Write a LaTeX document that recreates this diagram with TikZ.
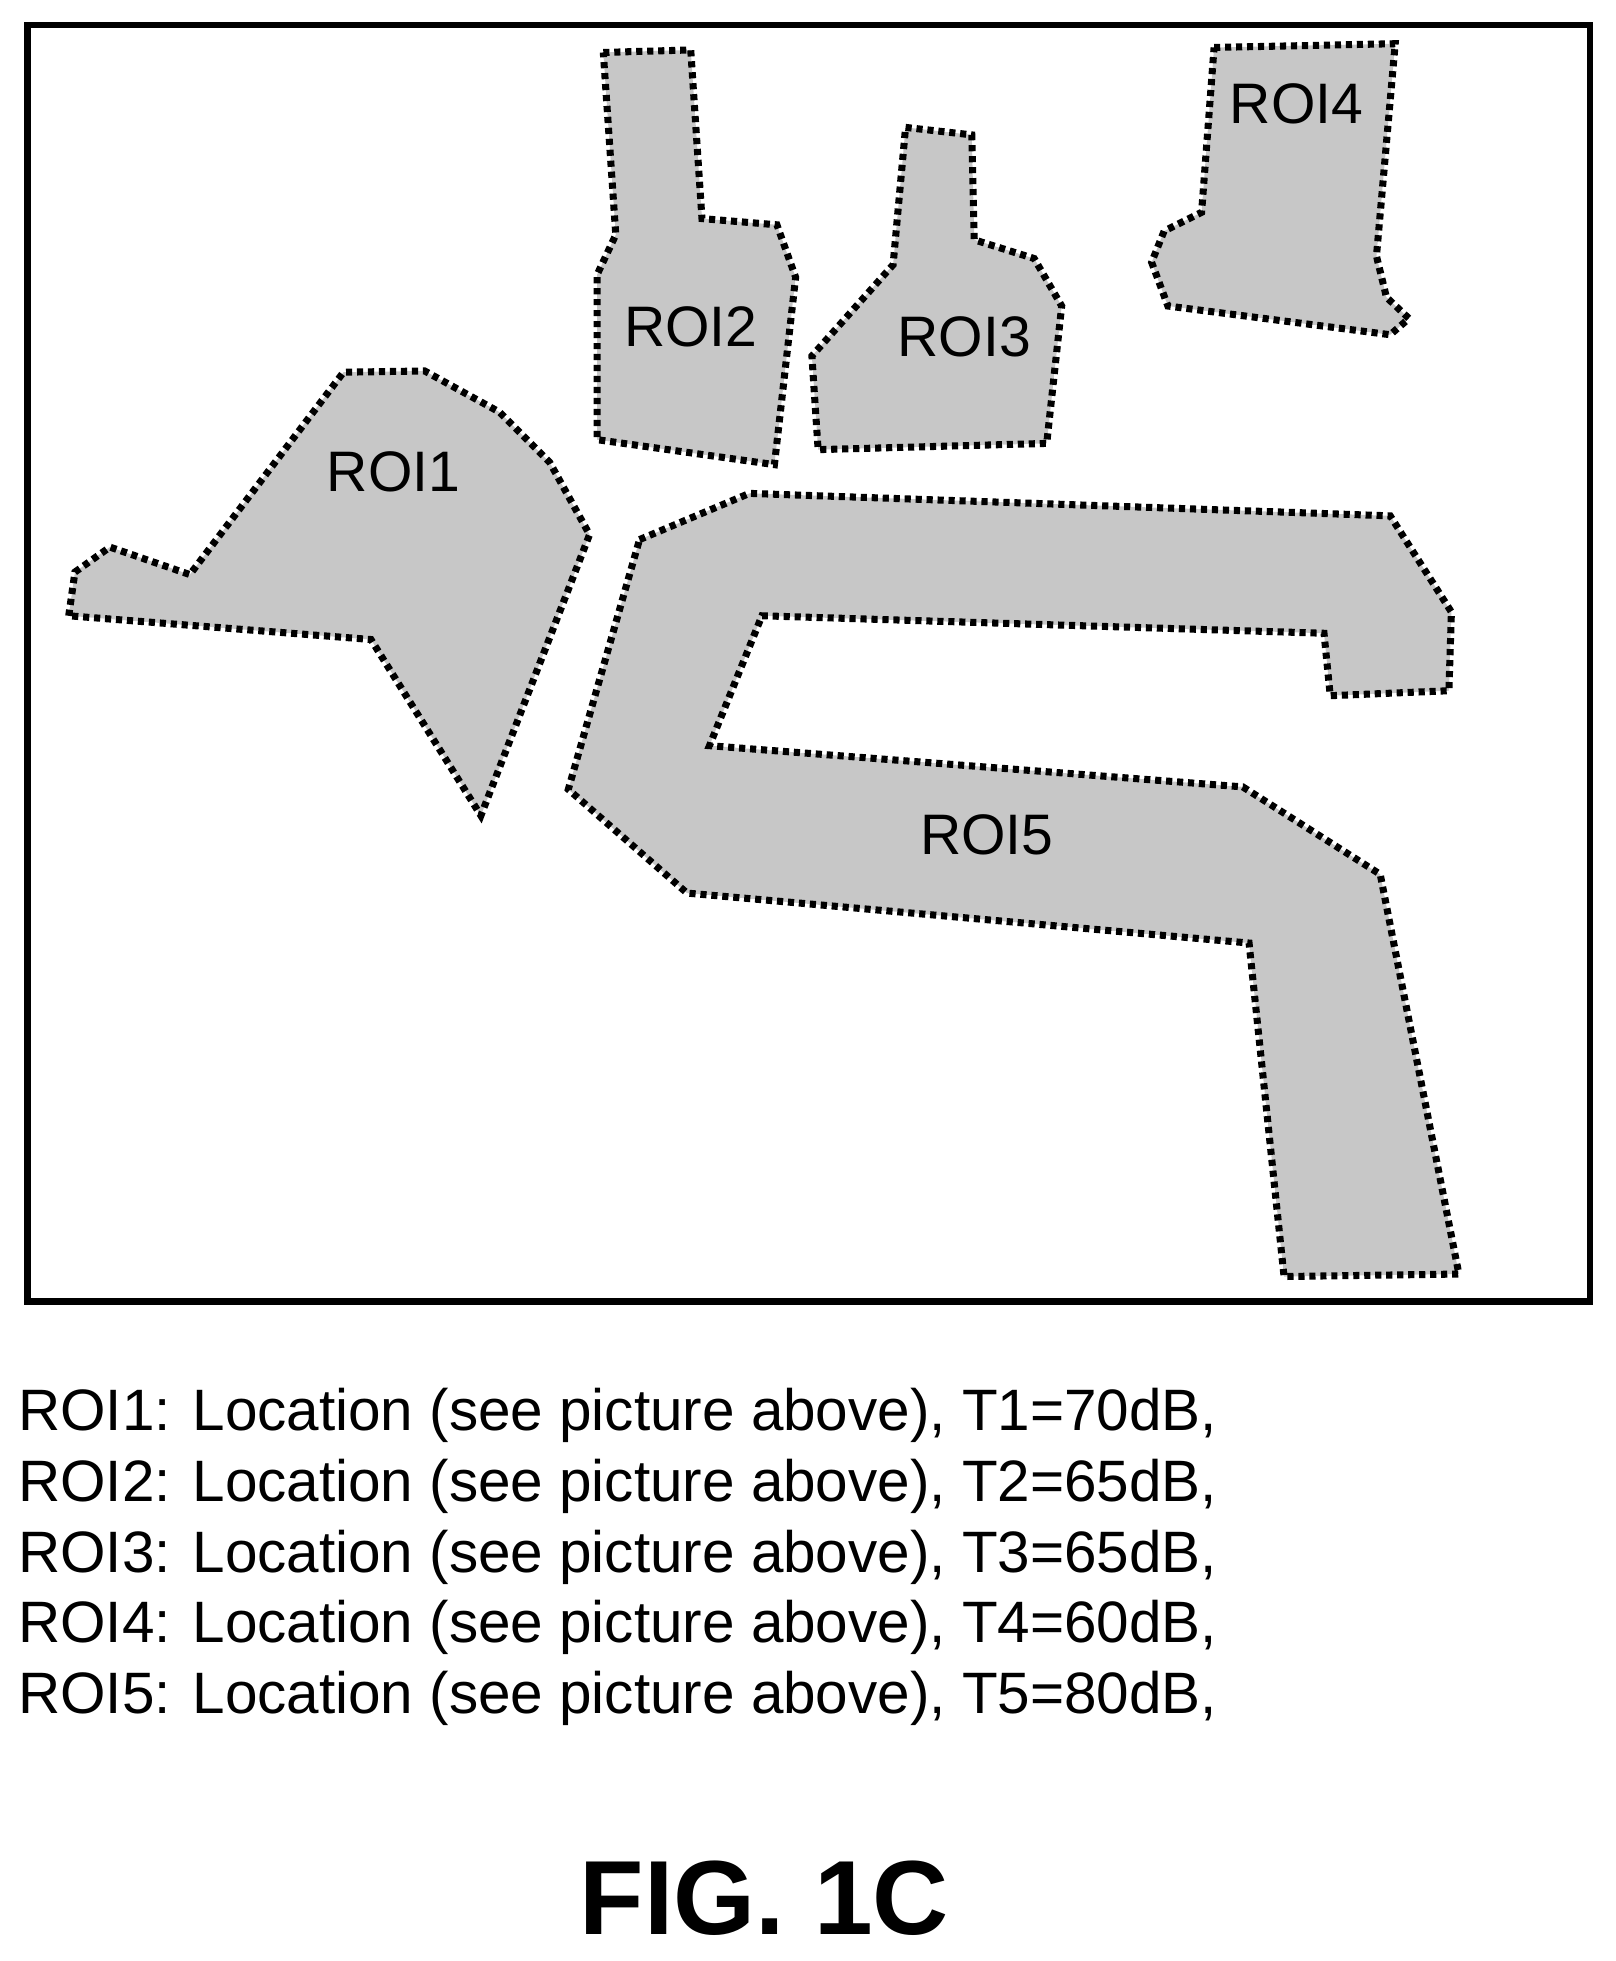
\documentclass[tikz,border=0pt]{standalone}
\usepackage{fontspec}
\setmainfont{Liberation Sans}
\begin{document}
\begin{tikzpicture}[x=0.01cm, y=-0.01cm,
            region/.style = {
                draw=black,
                fill=black!22,
                line width=1.6pt,
                dash pattern=on 1.4pt off 1.1pt,
                },
            roilabel/.style = {
                font=\fontsize{13}{15}\selectfont,
                inner sep=0pt},
            legend/.style = {
                font=\fontsize{13.3}{16}\selectfont,
                anchor=west, inner sep=0pt}]
            \useasboundingbox (0,0) rectangle (1293,1570);
            \draw[line width=1.4pt] (22,20) rectangle (1273,1042);
            % regions of interest
            \draw[region] (55,493) -- (60,458) -- (88,438) -- (152,460) -- (275,298) -- (340,297) -- (400,330) -- (440,370) -- (472,428) -- (385,653) -- (297,512) -- cycle;
            \draw[region] (483,42) -- (553,40) -- (562,175) -- (622,180) -- (637,222) -- (620,372) -- (478,352) -- (478,220) -- (493,188) -- cycle;
            \draw[region] (725,102) -- (778,108) -- (780,192) -- (828,207) -- (850,245) -- (838,355) -- (655,360) -- (650,285) -- (715,212) -- cycle;
            \draw[region] (972,38) -- (1117,35) -- (1102,205) -- (1110,238) -- (1128,255) -- (1113,268) -- (935,245) -- (922,210) -- (932,185) -- (962,170) -- cycle;
            \draw[region] (512,432) -- (600,395) -- (1113,413) -- (1162,490) -- (1160,553) -- (1065,557) -- (1060,507) -- (610,493) -- (568,597) -- (995,630) -- (1105,700) -- (1168,1020) -- (1028,1022) -- (1000,755) -- (550,715) -- (455,632) -- cycle;
            \node[roilabel] (r1) at (315,378) {ROI1};
            \node[roilabel] (r2) at (553,262) {ROI2};
            \node[roilabel] (r3) at (772,270) {ROI3};
            \node[roilabel] (r4) at (1038,83) {ROI4};
            \node[roilabel] (r5) at (790,668) {ROI5};
            % thresholds
            \node[legend] (l1) at (14,1133) {ROI1: Location (see picture above), T1=70dB,};
            \node[legend] (l2) at (14,1190) {ROI2: Location (see picture above), T2=65dB,};
            \node[legend] (l3) at (14,1247) {ROI3: Location (see picture above), T3=65dB,};
            \node[legend] (l4) at (14,1303) {ROI4: Location (see picture above), T4=60dB,};
            \node[legend] (l5) at (14,1360) {ROI5: Location (see picture above), T5=80dB,};
            \node[font=\fontsize{24}{28}\selectfont\bfseries] (fig) at (612,1520) {FIG. 1C};
        \end{tikzpicture}
\end{document}
